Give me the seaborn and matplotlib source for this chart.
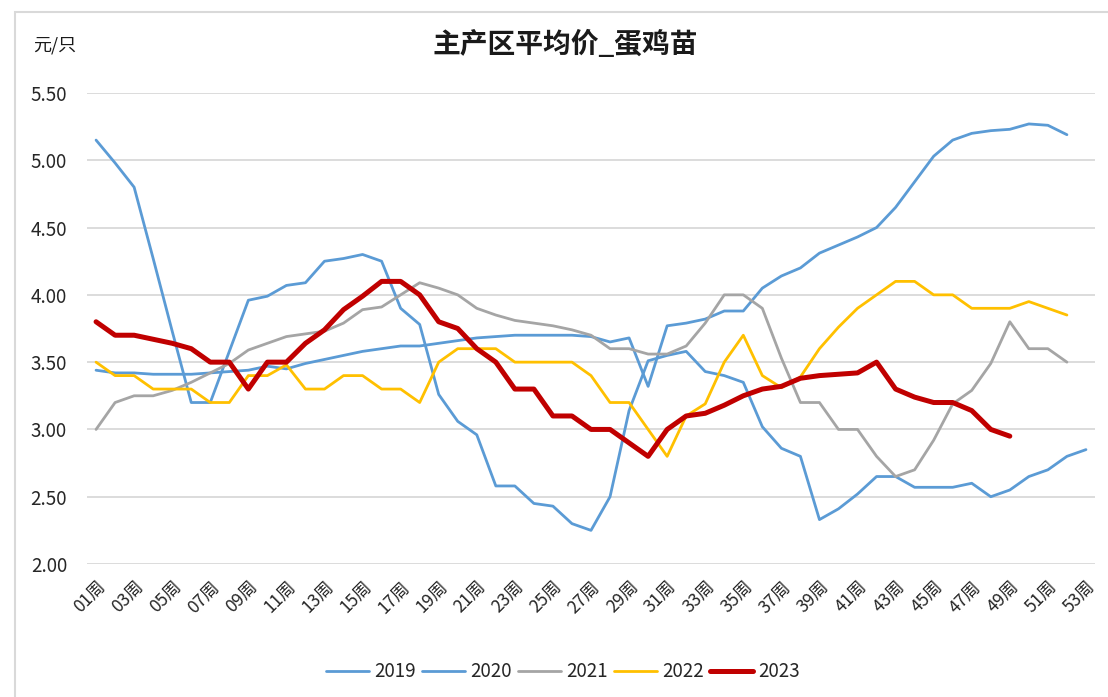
import numpy as np
import pandas as pd
import matplotlib
matplotlib.use("Agg")
import matplotlib.pyplot as plt
from matplotlib.patches import Rectangle
import seaborn as sns

# weekly price of layer chicks, yuan per bird
y2019 = [3.44, 3.42, 3.42, 3.41, 3.41, 3.41, 3.42, 3.43, 3.44, 3.47,
         3.45, 3.49, 3.52, 3.55, 3.58, 3.60, 3.62, 3.62, 3.64, 3.66,
         3.68, 3.69, 3.70, 3.70, 3.70, 3.70, 3.69, 3.65, 3.68, 3.32,
         3.77, 3.79, 3.82, 3.88, 3.88, 4.05, 4.14, 4.20, 4.31, 4.37,
         4.43, 4.50, 4.65, 4.84, 5.03, 5.15, 5.20, 5.22, 5.23, 5.27,
         5.26, 5.19]
y2020 = [5.15, 4.98, 4.80, 4.27, 3.73, 3.20, 3.20, 3.58, 3.96, 3.99,
         4.07, 4.09, 4.25, 4.27, 4.30, 4.25, 3.90, 3.78, 3.26, 3.06,
         2.96, 2.58, 2.58, 2.45, 2.43, 2.30, 2.25, 2.50, 3.14, 3.51,
         3.55, 3.58, 3.43, 3.40, 3.35, 3.02, 2.86, 2.80, 2.33, 2.41,
         2.52, 2.65, 2.65, 2.57, 2.57, 2.57, 2.60, 2.50, 2.55, 2.65,
         2.70, 2.80, 2.85]
y2021 = [3.00, 3.20, 3.25, 3.25, 3.29, 3.35, 3.42, 3.49, 3.59, 3.64,
         3.69, 3.71, 3.73, 3.79, 3.89, 3.91, 4.00, 4.09, 4.05, 4.00,
         3.90, 3.85, 3.81, 3.79, 3.77, 3.74, 3.70, 3.60, 3.60, 3.56,
         3.56, 3.62, 3.79, 4.00, 4.00, 3.90, 3.53, 3.20, 3.20, 3.00,
         3.00, 2.80, 2.65, 2.70, 2.92, 3.19, 3.29, 3.49, 3.80, 3.60,
         3.60, 3.50]
y2022 = [3.50, 3.40, 3.40, 3.30, 3.30, 3.30, 3.20, 3.20, 3.40, 3.40,
         3.48, 3.30, 3.30, 3.40, 3.40, 3.30, 3.30, 3.20, 3.50, 3.60,
         3.60, 3.60, 3.50, 3.50, 3.50, 3.50, 3.40, 3.20, 3.20, 3.00,
         2.80, 3.10, 3.19, 3.50, 3.70, 3.40, 3.31, 3.39, 3.60, 3.76,
         3.90, 4.00, 4.10, 4.10, 4.00, 4.00, 3.90, 3.90, 3.90, 3.95,
         3.90, 3.85]
y2023 = [3.80, 3.70, 3.70, 3.67, 3.64, 3.60, 3.50, 3.50, 3.30, 3.50,
         3.50, 3.64, 3.74, 3.89, 3.99, 4.10, 4.10, 4.00, 3.80, 3.75,
         3.60, 3.50, 3.30, 3.30, 3.10, 3.10, 3.00, 3.00, 2.90, 2.80,
         3.00, 3.10, 3.12, 3.18, 3.25, 3.30, 3.32, 3.38, 3.40, 3.41,
         3.42, 3.50, 3.30, 3.24, 3.20, 3.20, 3.14, 3.00, 2.95]

years = ["2019", "2020", "2021", "2022", "2023"]
series = [y2019, y2020, y2021, y2022, y2023]
week_labels = ["%02d周" % w for w in range(1, 54)]
y_ticks = [2.0, 2.5, 3.0, 3.5, 4.0, 4.5, 5.0, 5.5]

rows = []
for yr, vals in zip(years, series):
    for i, v in enumerate(vals):
        rows.append({"week": i + 1, "price": v, "year": yr})
df = pd.DataFrame(rows)

palette = {"2019": "#5B9BD5", "2020": "#5B9BD5", "2021": "#A5A5A5",
           "2022": "#FFC000", "2023": "#C00000"}
widths = {"2019": 2.0, "2020": 2.0, "2021": 2.0, "2022": 2.0, "2023": 3.6}

sns.set_style("white")
plt.rcParams['font.family'] = ['Noto Sans CJK SC', 'DejaVu Sans']

fig = plt.figure(figsize=(11.08, 6.97), dpi=100)
ax = fig.add_axes([0.0781, 0.1908, 0.9106, 0.6758])

sns.lineplot(data=df, x="week", y="price", hue="year", size="year",
             palette=palette, sizes=widths, hue_order=years, size_order=years,
             sort=False, legend=False, ax=ax)

ax.set_xlim(0.5, 53.5)
ax.set_ylim(2.0, 5.5)
ax.set_yticks(y_ticks)
ax.set_yticklabels(["%.2f" % t for t in y_ticks], fontsize=13.5, color="#262626")
ax.set_xticks(range(1, 54, 2))
ax.set_xticklabels(week_labels[::2], rotation=45, ha="right", va="top",
                   rotation_mode="anchor", fontsize=12.5, color="#262626")
ax.tick_params(axis="both", length=0)
ax.tick_params(axis="y", pad=14)
ax.tick_params(axis="x", pad=10)
ax.yaxis.grid(True, color="#D9D9D9", linewidth=1.3)
ax.xaxis.grid(False)
ax.set_axisbelow(True)
for s in ax.spines.values():
    s.set_visible(False)
ax.set_xlabel("")
ax.set_ylabel("")

fig.text(0.51, 0.935, "主产区平均价_蛋鸡苗", ha="center", va="center",
         fontsize=20, fontweight="bold", color="#1a1a1a")
fig.text(0.030, 0.935, "元/只", ha="left", va="center", fontsize=13,
         color="#1a1a1a")

handles = [plt.Line2D([], [], color=palette[y], linewidth=widths[y]) for y in years]
fig.legend(handles, years, loc="center", bbox_to_anchor=(0.508, 0.036), ncol=5,
           frameon=False, fontsize=13.5, handlelength=2.3, handletextpad=0.3,
           columnspacing=0.3)

fig.add_artist(Rectangle((0.0135, -0.05), 1.1, 1.033, transform=fig.transFigure,
                         fill=False, edgecolor="#D9D9D9", linewidth=1.5))

fig.savefig("out.png", dpi=100)
